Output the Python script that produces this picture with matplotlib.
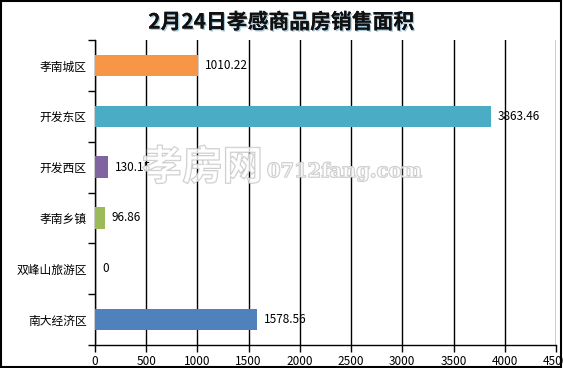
import matplotlib
matplotlib.use("Agg")
import matplotlib.pyplot as plt
import matplotlib.patheffects as pe
import numpy as np

plt.rcParams['font.family'] = ['Noto Sans CJK SC', 'DejaVu Sans']

title = "2月24日孝感商品房销售面积"
categories = ["孝南城区", "开发东区", "开发西区", "孝南乡镇", "双峰山旅游区", "南大经济区"]
values = [1010.22, 3863.46, 130.15, 96.86, 0, 1578.56]
labels = ["1010.22", "3863.46", "130.15", "96.86", "0", "1578.56"]
colors = ["#F79646", "#4BACC6", "#8064A2", "#9BBB59", "#4F81BD", "#4F81BD"]
xticks = [0, 500, 1000, 1500, 2000, 2500, 3000, 3500, 4000, 4500]

fig = plt.figure(figsize=(5.63, 3.68), dpi=100)
ax = fig.add_axes([95/563, 1 - 345/368, (556-95)/563, (345-40)/368])

n = len(categories)
y = np.arange(n)
ax.barh(y, values, height=0.42, color=colors, zorder=3)
ax.set_ylim(n - 0.5, -0.5)
ax.set_xlim(0, 4500)

ax.set_xticks(xticks)
ax.set_xticklabels([str(t) for t in xticks], fontsize=8.5)
ax.xaxis.grid(True, color='black', linewidth=1, zorder=0)
ax.tick_params(axis='x', length=5, width=1, color='black', pad=2)

ax.set_yticks(y)
ax.set_yticklabels(categories, fontsize=8.5)
ax.tick_params(axis='y', length=0, pad=6)
ax.set_yticks(np.arange(-0.5, n, 1.0), minor=True)
ax.tick_params(axis='y', which='minor', length=5, width=1, color='black')

for s in ['top', 'right']:
    ax.spines[s].set_visible(False)
ax.spines['left'].set_linewidth(1)
ax.spines['bottom'].set_linewidth(1)

for yi, v, lab in zip(y, values, labels):
    ax.annotate(lab, (v, yi), xytext=(5, 0), textcoords='offset points',
                va='center', ha='left', fontsize=8.5, zorder=4)

fig.text(0.5, 1 - 22/368, title, ha='center', va='center', fontsize=15,
         fontweight='bold', color='#111111',
         path_effects=[pe.withSimplePatchShadow(offset=(1, -1), shadow_rgbFace='#6FA8C8', alpha=0.6), pe.Normal()])

wm_effects = [pe.withStroke(linewidth=1.0, foreground=(0.75, 0.75, 0.75, 0.9))]
wm_fill = (1, 1, 1, 0.55)
fig.text(142/563, 1 - 168/368, "孝房网", ha='left', va='center', fontsize=29,
         fontweight='bold', color=wm_fill, path_effects=wm_effects, zorder=5)
fig.text(267/563, 1 - 172/368, "0712fang.com", ha='left', va='center', fontsize=14,
         fontweight='bold', family='DejaVu Serif', color=wm_fill, path_effects=wm_effects, zorder=5)

fig.patches.append(plt.Rectangle((0.002, 0.003), 0.994, 0.994, transform=fig.transFigure,
                                 fill=False, edgecolor='black', linewidth=1.5))

fig.savefig("out.png", dpi=100)
